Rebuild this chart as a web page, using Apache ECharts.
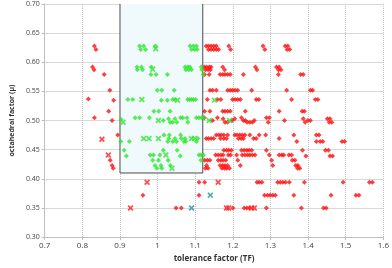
<!DOCTYPE html>
<html><head><meta charset="utf-8">
<script src="https://cdn.jsdelivr.net/npm/echarts@6/dist/echarts.min.js"></script>
<style>html,body{margin:0;padding:0;background:#fff}#c{width:392px;height:268px}</style>
</head><body><div id="c"></div>
<script>
// Axis ticks
const xTicks = [0.7,0.8,0.9,1.0,1.1,1.2,1.3,1.4,1.5,1.6];
const yTicks = [0.30,0.35,0.40,0.45,0.50,0.55,0.60,0.65,0.70];
// Formability box (TF range, mu range)
const boxTF = [0.9, 1.12];
const boxMu = [0.41, 0.70];

// [tolerance factor, octahedral factor]
const redDiamonds = [
 [0.832,0.628],[0.836,0.622],[0.827,0.592],[0.831,0.587],[0.858,0.579],[0.873,0.552],[0.816,0.537],[0.883,0.535],
 [0.870,0.516],[0.832,0.505],[0.879,0.500],[0.894,0.475],[0.874,0.432],[0.879,0.423],[0.882,0.418],
 [0.961,0.372],[1.049,0.350],[1.063,0.350],[1.110,0.394],[1.125,0.394],[1.110,0.372],
 [1.129,0.628],[1.135,0.628],[1.142,0.628],[1.149,0.628],[1.156,0.628],[1.189,0.628],[1.280,0.628],[1.339,0.628],[1.346,0.628],
 [1.135,0.622],[1.142,0.622],[1.149,0.622],[1.156,0.622],[1.162,0.622],[1.194,0.622],[1.285,0.622],[1.344,0.622],[1.351,0.622],
 [1.124,0.592],[1.130,0.592],[1.137,0.592],[1.142,0.592],[1.173,0.592],[1.260,0.592],[1.316,0.592],[1.323,0.592],
 [1.127,0.587],[1.134,0.587],[1.140,0.587],[1.178,0.587],[1.264,0.587],[1.321,0.587],[1.328,0.587],
 [1.125,0.579],[1.137,0.579],[1.166,0.579],[1.173,0.579],[1.179,0.579],[1.186,0.579],[1.193,0.579],[1.228,0.579],[1.321,0.579],[1.380,0.579],[1.387,0.579],
 [1.139,0.552],[1.146,0.552],[1.156,0.552],[1.186,0.552],[1.193,0.552],[1.199,0.552],[1.206,0.552],[1.213,0.552],[1.250,0.552],[1.343,0.552],[1.406,0.552],[1.412,0.552],
 [1.132,0.536],[1.159,0.536],[1.168,0.536],[1.199,0.536],[1.206,0.536],[1.213,0.536],[1.220,0.536],[1.262,0.536],[1.269,0.536],[1.356,0.536],[1.419,0.536],[1.426,0.536],
 [1.125,0.516],[1.139,0.516],[1.173,0.516],[1.179,0.516],[1.186,0.516],[1.193,0.516],[1.233,0.516],[1.323,0.516],[1.384,0.516],[1.390,0.516],
 [1.124,0.505],[1.159,0.505],[1.223,0.505],[1.289,0.505],[1.297,0.505],
 [1.174,0.503],[1.205,0.503],[1.387,0.503],[1.451,0.503],[1.458,0.503],
 [1.146,0.500],[1.198,0.500],[1.228,0.500],[1.233,0.500],[1.257,0.500],[1.337,0.500],[1.399,0.500],[1.406,0.500],
 [1.179,0.497],[1.186,0.497],[1.238,0.497],[1.245,0.497],[1.252,0.497],[1.294,0.497],[1.392,0.497],[1.456,0.497],[1.463,0.497],
 [1.156,0.475],[1.163,0.475],[1.169,0.475],[1.176,0.475],[1.186,0.475],[1.205,0.475],[1.211,0.475],[1.218,0.475],[1.225,0.475],[1.232,0.475],[1.245,0.475],[1.270,0.475],[1.287,0.475],[1.362,0.475],[1.422,0.475],[1.429,0.475],
 [1.129,0.469],[1.135,0.469],[1.142,0.469],[1.149,0.469],[1.167,0.469],[1.176,0.469],[1.183,0.469],[1.215,0.469],[1.222,0.469],[1.228,0.469],[1.255,0.469],[1.262,0.469],[1.323,0.469],
 [1.370,0.464],[1.422,0.464],[1.432,0.464],[1.439,0.464],[1.490,0.464],[1.497,0.464],
 [1.176,0.449],[1.183,0.449],[1.189,0.449],[1.196,0.449],[1.223,0.449],[1.230,0.449],[1.237,0.449],[1.243,0.449],[1.250,0.449],[1.289,0.449],[1.385,0.449],[1.446,0.449],[1.454,0.449],
 [1.154,0.441],[1.161,0.441],[1.168,0.441],[1.174,0.441],[1.188,0.441],[1.194,0.441],[1.210,0.441],[1.225,0.441],[1.232,0.441],[1.239,0.441],[1.245,0.441],[1.252,0.441],[1.259,0.441],[1.297,0.441],[1.323,0.441],[1.330,0.441],[1.335,0.441],[1.349,0.441],[1.356,0.441],
 [1.394,0.439],[1.458,0.439],[1.465,0.439],
 [1.125,0.432],[1.132,0.432],[1.139,0.432],[1.161,0.432],[1.168,0.432],[1.174,0.432],[1.181,0.432],[1.213,0.432],[1.303,0.432],[1.358,0.432],[1.365,0.432],
 [1.130,0.423],[1.166,0.423],[1.173,0.423],[1.179,0.423],[1.186,0.423],[1.220,0.423],[1.306,0.423],[1.367,0.423],[1.373,0.423],
 [1.127,0.418],[1.134,0.418],[1.171,0.418],[1.178,0.418],[1.184,0.418],[1.191,0.418],[1.372,0.418],[1.378,0.418],
 [1.264,0.394],[1.270,0.394],[1.277,0.394],[1.319,0.394],[1.326,0.394],[1.333,0.394],[1.340,0.394],[1.350,0.394],[1.390,0.394],[1.493,0.394],[1.563,0.394],[1.571,0.394],
 [1.284,0.372],[1.292,0.372],[1.299,0.372],[1.306,0.372],[1.313,0.372],[1.362,0.372],[1.461,0.372],[1.527,0.372],[1.535,0.372],
 [1.200,0.350],[1.230,0.350],[1.237,0.350],[1.244,0.350],[1.289,0.350],[1.382,0.350],[1.441,0.350],[1.448,0.350]
];
const greenDiamonds = [
 [0.952,0.628],[0.963,0.628],[0.994,0.628],[1.086,0.628],[1.095,0.628],[1.103,0.628],
 [0.955,0.622],[0.968,0.622],[1.090,0.622],[1.098,0.622],[1.105,0.622],
 [0.945,0.592],[0.957,0.592],[0.983,0.592],[1.073,0.592],[1.080,0.592],[1.086,0.592],[1.116,0.592],
 [0.946,0.587],[0.960,0.587],[1.075,0.587],[1.083,0.587],[1.090,0.587],[1.118,0.587],
 [0.982,0.579],[0.996,0.579],[1.026,0.579],[1.121,0.579],
 [0.999,0.552],[1.011,0.552],[1.044,0.552],
 [0.921,0.536],[0.934,0.536],[1.040,0.536],[1.046,0.536],[1.080,0.536],[1.085,0.536],[1.090,0.536],[1.095,0.536],[1.101,0.536],
 [1.010,0.535],[1.026,0.535],
 [0.990,0.516],[1.003,0.516],[1.033,0.516],
 [0.940,0.505],[0.952,0.505],[0.978,0.505],[1.061,0.505],[1.067,0.505],[1.078,0.505],[1.103,0.505],[1.110,0.505],[1.117,0.505],[1.122,0.505],
 [0.903,0.502],[1.029,0.503],[1.046,0.503],[1.015,0.500],
 [1.033,0.497],[1.040,0.497],[1.051,0.497],[1.080,0.497],
 [1.017,0.475],[1.031,0.475],[1.061,0.475],
 [1.030,0.469],[1.046,0.469],[1.063,0.469],[1.073,0.469],[1.107,0.469],
 [0.902,0.464],[0.925,0.464],[1.027,0.464],[1.040,0.464],[1.050,0.464],[1.070,0.464],[1.075,0.464],[1.103,0.464],
 [0.911,0.449],[1.015,0.449],[1.052,0.449],
 [0.917,0.439],[0.980,0.441],[0.989,0.441],[1.006,0.441],[1.060,0.439],[1.110,0.441],[1.116,0.441],[1.122,0.441],
 [0.987,0.432],[1.002,0.432],[1.028,0.432],[1.115,0.432],
 [0.993,0.423],[1.009,0.423],[1.034,0.423],
 [0.998,0.418],[1.011,0.418]
];
const redCrosses = [[0.852,0.468],[0.869,0.441],[0.928,0.350],[0.972,0.394],[1.161,0.394],[1.183,0.350],[1.189,0.350],[1.250,0.350],[1.257,0.350]];
const greenCrosses = [[0.908,0.497],[0.995,0.623],[0.987,0.588],[0.958,0.536],[1.053,0.535],[1.002,0.500],[0.963,0.469],[0.977,0.469],[1.002,0.469],[1.090,0.469],[1.098,0.469],[1.022,0.441],[1.038,0.418],[1.151,0.535],[1.137,0.500],[1.191,0.500]];
const tealCrosses = [[1.090,0.350],[1.140,0.372]];

const cross = 'path://M2,0L5,3L8,0L10,2L7,5L10,8L8,10L5,7L2,10L0,8L3,5L0,2Z';
const font = '"Open Sans", "Liberation Sans", sans-serif';
const chart = echarts.init(document.getElementById('c'), null, {renderer:'canvas'});
chart.setOption({
  animation:false,
  grid:{left:30,right:6,top:4,bottom:25,containLabel:false},
  xAxis:{type:'value',min:xTicks[0],max:xTicks[xTicks.length-1],interval:0.1,
    name:'tolerance factor (TF)',nameLocation:'middle',nameGap:14,
    nameTextStyle:{fontSize:8,fontWeight:'bold',color:'#333',fontFamily:font},
    axisLine:{show:true,lineStyle:{color:'#bfbfbf'}},
    axisTick:{show:true,length:3,lineStyle:{color:'#bfbfbf'}},
    axisLabel:{fontSize:8,color:'#444',margin:5,fontFamily:font,formatter:v=>String(+v.toFixed(1))},
    splitLine:{show:true,lineStyle:{color:'#c4c4c4',type:'dotted'}}},
  yAxis:{type:'value',min:yTicks[0],max:yTicks[yTicks.length-1],interval:0.05,
    name:'octahedral factor (\u03bc)',nameLocation:'middle',nameGap:22,nameRotate:90,
    nameTextStyle:{fontSize:7,fontWeight:'bold',color:'#333',fontFamily:font},
    axisLine:{show:true,lineStyle:{color:'#bfbfbf'}},
    axisTick:{show:true,length:3,lineStyle:{color:'#bfbfbf'}},
    axisLabel:{fontSize:7,color:'#444',margin:5,fontFamily:font,formatter:v=>v.toFixed(2)},
    splitLine:{show:true,lineStyle:{color:'#d9d9d9'}}},
  series:[
    {type:'line',data:[[boxTF[0],boxMu[1]],[boxTF[0],boxMu[0]],[boxTF[1],boxMu[0]],[boxTF[1],boxMu[1]]],
     symbol:'none',lineStyle:{color:'#4a4a4a',width:1},silent:true,z:1,
     markArea:{silent:true,itemStyle:{color:'#f0f9fc',borderWidth:0},
       data:[[{coord:[boxTF[0],boxMu[0]]},{coord:[boxTF[1],boxMu[1]]}]]}},
    {type:'scatter',data:redDiamonds,symbol:'diamond',symbolSize:5,itemStyle:{color:'#ff1010'},z:3},
    {type:'scatter',data:greenDiamonds,symbol:'diamond',symbolSize:5,itemStyle:{color:'#2ee62e'},z:3},
    {type:'scatter',data:redCrosses,symbol:cross,symbolSize:6,itemStyle:{color:'#ff2020'},z:4},
    {type:'scatter',data:greenCrosses,symbol:cross,symbolSize:6,itemStyle:{color:'#2ee62e'},z:4},
    {type:'scatter',data:tealCrosses,symbol:cross,symbolSize:6,itemStyle:{color:'#2a90a8'},z:4}
  ]
});
</script></body></html>
